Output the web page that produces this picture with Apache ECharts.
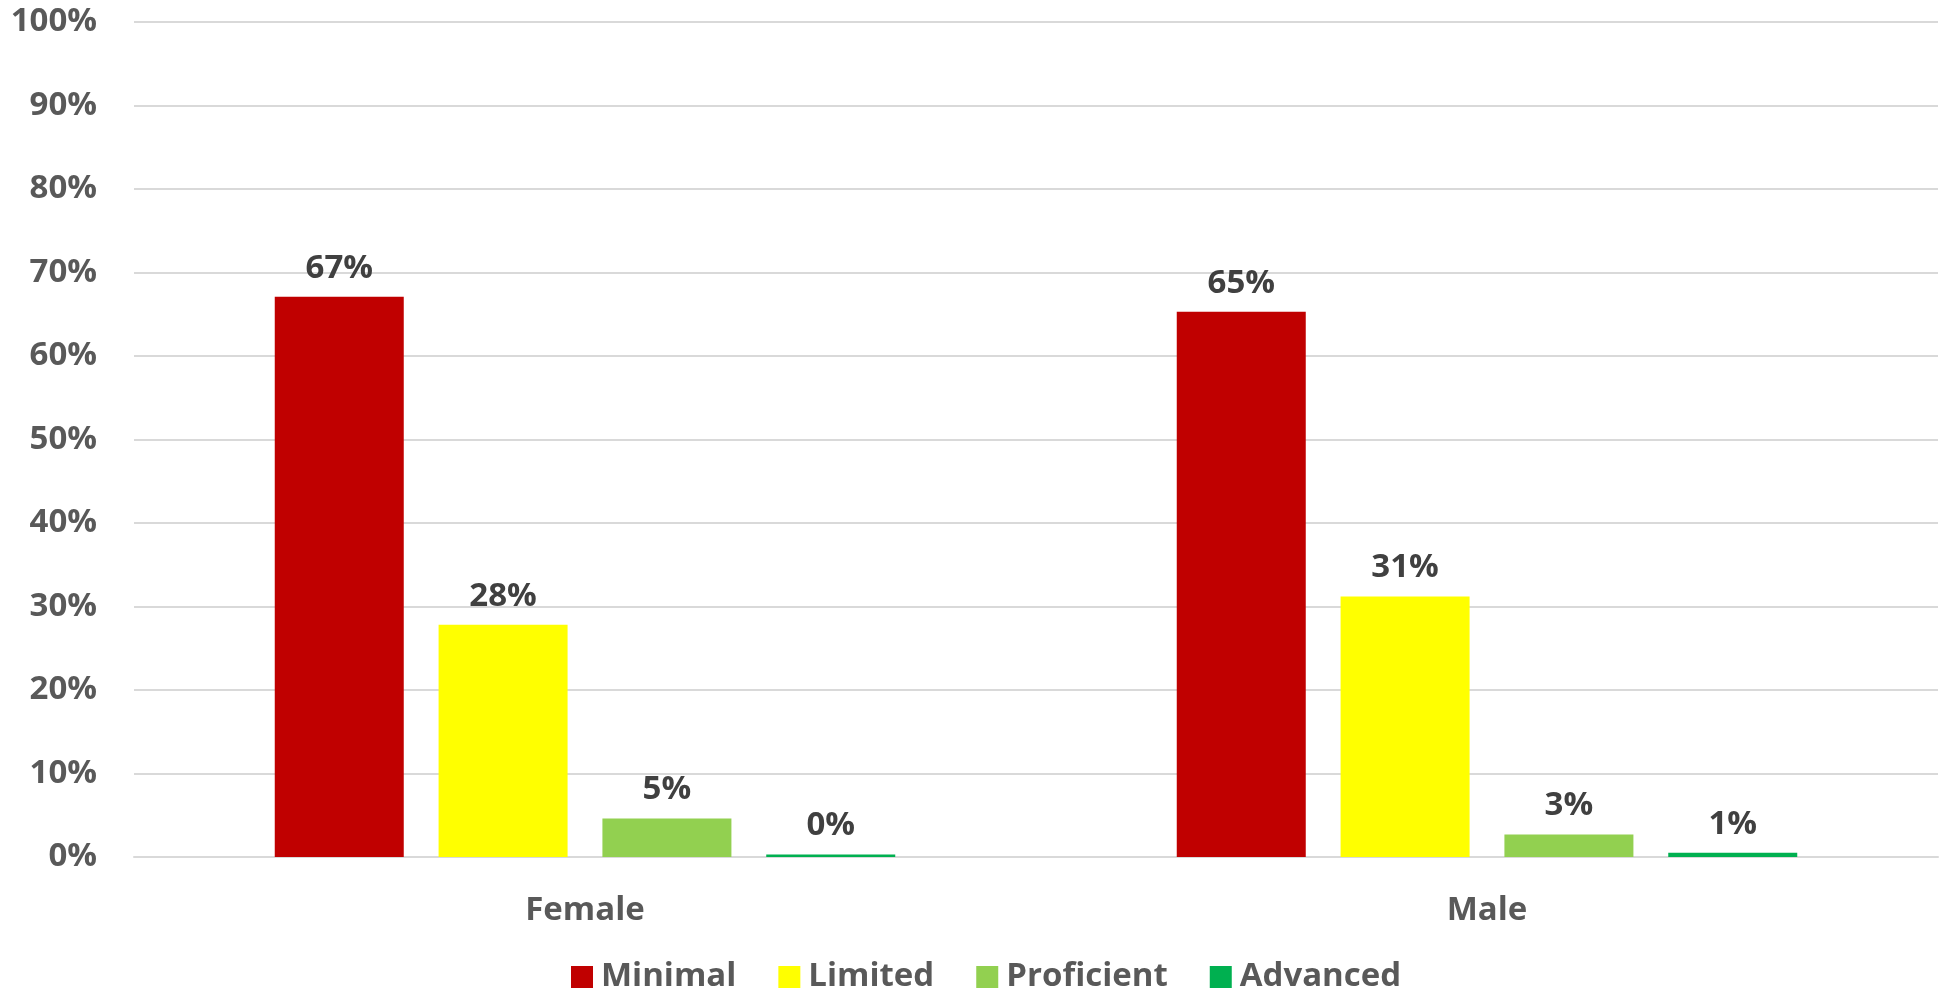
<!DOCTYPE html>
<html><head><meta charset="utf-8">
<script src="https://cdn.jsdelivr.net/npm/echarts@6/dist/echarts.min.js"></script>
<style>html,body{margin:0;padding:0;background:#fff}#c{width:1950px;height:993px}</style>
</head><body><div id="c"></div>
<script>
const categories = ['Female', 'Male'];
const minimal = [67.1, 65.3];
const limited = [27.8, 31.2];
const proficient = [4.6, 2.7];
const advanced = [0.3, 0.5];
const yTicks = [0, 10, 20, 30, 40, 50, 60, 70, 80, 90, 100];

const font = '"Open Sans", sans-serif';
const lbl = {show: true, position: 'top', distance: 12, formatter: p => Math.round(p.value) + '%',
  color: '#404040', fontFamily: font, fontWeight: 'bold', fontSize: 33};
function s(name, data, color) {
  return {name, type: 'bar', data, barWidth: 129, barGap: '27%', itemStyle: {color}, label: lbl};
}
const chart = echarts.init(document.getElementById('c'));
chart.setOption({
  animation: false,
  grid: {left: 134, right: 12, top: 22, bottom: 136, containLabel: false},
  legend: {top: 955, left: 566, itemWidth: 22, itemHeight: 22, itemGap: 42, icon: 'rect',
    textStyle: {color: '#595959', fontFamily: font, fontWeight: 'bold', fontSize: 33, lineHeight: 34, padding: [0,0,0,3]},
    data: ['Minimal', 'Limited', 'Proficient', 'Advanced']},
  xAxis: {type: 'category', data: categories,
    axisLine: {lineStyle: {color: '#D9D9D9', width: 2}}, axisTick: {show: false},
    axisLabel: {color: '#595959', fontFamily: font, fontWeight: 'bold', fontSize: 33, margin: 37}},
  yAxis: {type: 'value', min: yTicks[0], max: yTicks[yTicks.length-1], interval: 10,
    axisLine: {show: false}, axisTick: {show: false},
    splitLine: {lineStyle: {color: '#D9D9D9', width: 2}},
    axisLabel: {formatter: v => v + '%', color: '#595959', fontFamily: font, fontWeight: 'bold', fontSize: 33, margin: 37}},
  series: [s('Minimal', minimal, '#C00000'), s('Limited', limited, '#FFFF00'),
    s('Proficient', proficient, '#92D050'), s('Advanced', advanced, '#00B050')]
});
</script></body></html>
